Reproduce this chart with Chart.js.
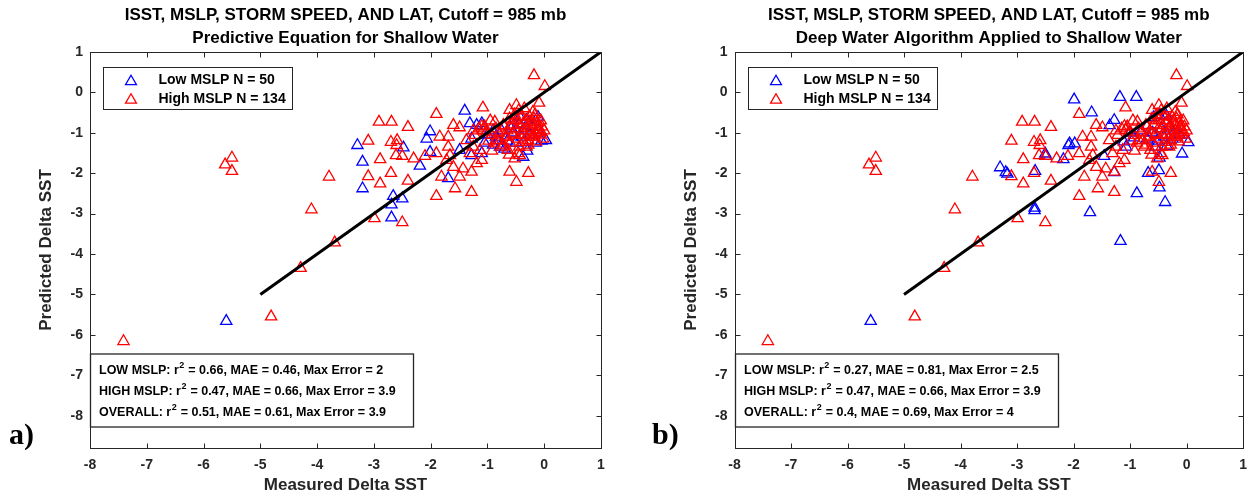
<!DOCTYPE html>
<html>
<head>
<meta charset="utf-8">
<title>Measured vs Predicted Delta SST</title>
<script src="https://cdn.jsdelivr.net/npm/chart.js@4.4.1/dist/chart.umd.min.js"></script>
<style>
	body { margin: 0; background: #ffffff; }
	#wrap { position: relative; width: 1256px; height: 494px; }
	canvas { position: absolute; top: 0; }
	#panel_a { left: 0; }
	#panel_b { left: 628px; }
</style>
</head>
<body>
<div id="wrap">
	<canvas id="panel_a" width="628" height="494"></canvas>
	<canvas id="panel_b" width="628" height="494"></canvas>
</div>
<script>
// tick values on both axes
let xTickValues = [-8, -7, -6, -5, -4, -3, -2, -1, 0, 1];
let yTickValues = [-8, -7, -6, -5, -4, -3, -2, -1, 0, 1];

// titles
let titleLine1 = 'ISST, MSLP, STORM SPEED, AND LAT, Cutoff = 985 mb';
let subtitleA = 'Predictive Equation for Shallow Water';
let subtitleB = 'Deep Water Algorithm Applied to Shallow Water';

// legend counts
let lowCount = 50;
let highCount = 134;

// 1:1 line
let fitLineX = [-5, 1];
let fitLineY = [-5, 1];

// High MSLP points (same in both panels)
let highX = [
	-7.41, -5.50, -5.62, -5.50, -4.81, -4.29, -3.69, -4.10, -3.79,
	-2.91, -2.69, -2.40, -3.10, -2.70, -2.59, -2.60, -2.50, -2.61, -2.89, -2.30, -2.10, -3.10, -2.70, -2.89, -2.40, -2.99, -2.50,
	-0.18, 0.01, -0.09, -1.08, -1.90, -0.61, -0.49, -0.20, -1.60, -1.49, -1.10, -1.08, -0.87, -0.72, -0.61, -0.49, -0.37, -0.25, -0.11, -0.05,
	-0.17, -0.28, -0.43, -0.55, -0.66, -0.78, -0.75, -0.64, -0.46, -0.31, -0.37,
	-1.84, -1.69, -1.69, -1.90, -1.66, -1.60, -1.72, -1.43, -1.28, -1.19, -1.31, -1.10, -1.81, -1.49, -1.57, -1.28, -1.90,
	-0.61, -0.49, -0.28, -0.52, -0.43, -0.84, -0.93, -1.02, -1.22, -1.37, -1.25, -1.13,
	-0.95, -0.85, -0.80, -0.70, -0.65, -0.58, -0.55, -0.50, -0.47, -0.42, -0.40, -0.38, -0.35, -0.33, -0.30, -0.28,
	-0.26, -0.24, -0.22, -0.20, -0.18, -0.15, -0.14, -0.12, -0.10, -0.08, -0.06, -0.04, -0.02, 0.00, -0.60, -0.68,
	-0.72, -0.88, -0.98, -1.05, -1.15, -1.25, -0.52, -0.45, -0.35, -0.62, -0.44, -0.16, -0.92, -0.56, -0.27
];
let highY = [
	-6.16, -1.62, -1.79, -1.95, -5.55, -4.35, -3.72, -2.90, -2.09,
	-0.73, -0.73, -0.86, -1.20, -1.23, -1.19, -1.31, -1.58, -1.56, -1.66, -1.64, -1.58, -2.08, -2.00, -2.26, -2.19, -3.12, -3.22,
	0.42, 0.15, -0.26, -0.38, -0.54, -0.44, -0.32, -0.49, -0.81, -0.87, -0.84, -0.94, -0.73, -0.81, -0.65, -0.69, -0.77, -0.73, -0.86, -0.99,
	-1.10, -1.19, -1.06, -1.02, -1.10, -1.19, -1.35, -1.43, -1.51, -1.35, -1.23,
	-1.10, -1.10, -1.35, -1.51, -1.56, -1.85, -1.68, -1.89, -1.97, -1.76, -1.51, -1.68, -2.09, -2.09, -2.38, -2.47, -2.57,
	-1.97, -2.22, -2.00, -1.64, -1.56, -1.19, -1.06, -0.98, -1.06, -1.19, -1.35, -1.43,
	-0.70, -0.90, -1.00, -0.85, -0.95, -0.80, -0.70, -0.90, -1.15, -0.82, -0.60, -0.95, -1.05, -0.70, -0.88, -1.30,
	-0.60, -0.95, -1.10, -0.80, -0.65, -1.00, -1.22, -0.75, -0.92, -1.05, -0.70, -0.85, -1.15, -0.95, -1.25, -1.10,
	-1.30, -1.25, -1.20, -0.85, -0.90, -0.95, -0.55, -0.45, -0.40, -1.55, -1.35, -0.55, -1.45, -1.05, -1.05
];

// Low MSLP points, panel a (predictive equation)
let lowAX = [
	-3.29, -3.20, -3.20, -2.66, -2.50, -2.69, -2.69, -2.48, -2.19,
	-1.40, -2.01, -2.07, -1.31, -1.19, -1.10, -1.28, -1.49, -2.01, -1.69, -1.28, -1.10, -0.90, -0.81, -0.43, -0.31,
	-0.11, 0.03, -0.37, -0.78, -0.58, -5.60,
	-1.00, -0.90, -0.85, -0.75, -0.65, -0.55, -0.50, -0.45, -0.40, -0.35, -0.30, -0.25, -0.22, -0.15, -0.10, -0.05, -0.70, -1.05, -0.60
];
let lowAY = [
	-1.31, -1.72, -2.38, -2.57, -2.63, -2.78, -3.10, -1.37, -1.82,
	-0.46, -0.97, -1.15, -0.77, -0.81, -0.77, -1.15, -1.43, -1.48, -2.13, -1.56, -1.51, -1.30, -1.19, -0.61, -0.69,
	-0.61, -1.19, -1.60, -1.35, -0.90, -5.66,
	-1.05, -0.95, -1.10, -0.95, -1.20, -1.00, -1.25, -0.80, -1.10, -0.90, -1.45, -1.05, -0.85, -1.25, -0.95, -1.20, -1.40, -1.25, -0.85
];

// Low MSLP points, panel b (deep water algorithm)
let lowBX = [
	-1.99, -1.18, -0.89, -1.68, -1.28, -1.36, -2.07, -1.98, -2.49, -2.50,
	-2.18, -1.46, -3.30, -3.20, -3.17, -2.68, -2.69, -2.69, -1.71, -1.28,
	-0.88, -0.68, -0.49, -0.48, -0.48, -0.38, -0.08, 0.03, -0.35, -1.11,
	-0.93, -0.58, -0.36, -1.17, -5.59, -1.07, -2.09, -0.48,
	-1.00, -0.80, -0.70, -0.60, -0.52, -0.45, -0.40, -0.30, -0.25, -0.20, -0.12, -0.55
];
let lowBY = [
	-0.18, -0.12, -0.12, -0.50, -0.69, -0.82, -1.27, -1.27, -1.58, -1.52,
	-1.66, -1.58, -1.86, -1.98, -2.02, -1.95, -2.86, -2.92, -2.97, -1.98,
	-2.50, -2.00, -1.93, -1.62, -2.36, -2.72, -1.52, -1.24, -1.33, -1.22,
	-1.12, -0.62, -0.58, -3.68, -5.66, -1.35, -1.31, -0.57,
	-1.00, -0.95, -1.15, -1.00, -1.20, -0.90, -1.10, -0.85, -1.15, -0.95, -1.05, -1.35
];

// statistics box
let statsNames = ['LOW MSLP:', 'HIGH MSLP:', 'OVERALL:'];
let statsA_r2 = [0.66, 0.47, 0.51];
let statsA_mae = [0.46, 0.66, 0.61];
let statsA_maxError = [2, 3.9, 3.9];
let statsB_r2 = [0.27, 0.47, 0.4];
let statsB_mae = [0.81, 0.66, 0.69];
let statsB_maxError = [2.5, 3.9, 4];

let fontSans = '"Liberation Sans", Arial, Helvetica, sans-serif';
let axisColor = '#262626';
Chart.defaults.font.family = fontSans;

let toPoints = function(xs, ys) {
	let pts = [];
	for (let i = 0; i < xs.length; i++) {
		pts.push({x: xs[i], y: ys[i]});
	}
	return pts;
}

let drawTriangle = function(ctx, x, y, r, color) {
	ctx.beginPath();
	for (let k = 0; k < 3; k++) {
		let a = k * 2 * Math.PI / 3;
		let vx = x + Math.sin(a) * r;
		let vy = y - Math.cos(a) * r;
		if (k === 0) ctx.moveTo(vx, vy); else ctx.lineTo(vx, vy);
	}
	ctx.closePath();
	ctx.strokeStyle = color;
	ctx.lineWidth = 1.3;
	ctx.stroke();
}

// frame, inward ticks, legend box, stats box and panel tag
let panelDecor = {
	id: 'panelDecor',
	afterDraw: function(chart, args, opts) {
		let ctx = chart.ctx;
		let area = chart.chartArea;
		let left = Math.round(area.left) + 0.5;
		let right = Math.round(area.right) + 0.5;
		let top = Math.round(area.top) + 0.5;
		let bottom = Math.round(area.bottom) + 0.5;
		ctx.save();

		ctx.strokeStyle = axisColor;
		ctx.lineWidth = 1;
		ctx.strokeRect(left, top, right - left, bottom - top);
		ctx.beginPath();
		chart.scales.x.ticks.forEach(function(t) {
			let px = Math.round(chart.scales.x.getPixelForValue(t.value)) + 0.5;
			ctx.moveTo(px, bottom); ctx.lineTo(px, bottom - 5);
			ctx.moveTo(px, top); ctx.lineTo(px, top + 5);
		});
		chart.scales.y.ticks.forEach(function(t) {
			let py = Math.round(chart.scales.y.getPixelForValue(t.value)) + 0.5;
			ctx.moveTo(left, py); ctx.lineTo(left + 5, py);
			ctx.moveTo(right, py); ctx.lineTo(right - 5, py);
		});
		ctx.stroke();

		// legend
		let lx = left + 13, ly = top + 15;
		ctx.fillStyle = '#ffffff';
		ctx.fillRect(lx, ly, 189, 42);
		ctx.strokeStyle = axisColor;
		ctx.lineWidth = 1;
		ctx.strokeRect(lx, ly, 189, 42);
		ctx.font = 'bold 14px ' + fontSans;
		ctx.textBaseline = 'middle';
		ctx.textAlign = 'left';
		[2, 1].forEach(function(d, i) {
			let ds = chart.data.datasets[d];
			let rowY = ly + 13 + i * 18.5;
			drawTriangle(ctx, lx + 27.5, rowY + 1, 6.3, ds.borderColor);
			ctx.fillStyle = '#000000';
			ctx.fillText(ds.label, lx + 55, rowY);
		});

		// statistics
		let bx = left, by = top + 301.5;
		ctx.fillStyle = '#ffffff';
		ctx.fillRect(bx, by, 323, 73);
		ctx.strokeStyle = axisColor;
		ctx.strokeRect(bx, by, 323, 73);
		let mainFont = 'bold 12.5px ' + fontSans;
		let supFont = 'bold 9px ' + fontSans;
		ctx.fillStyle = '#000000';
		for (let i = 0; i < statsNames.length; i++) {
			let rowY = by + 16.5 + i * 21;
			let head = statsNames[i] + ' r';
			ctx.font = mainFont;
			ctx.fillText(head, bx + 8.5, rowY);
			let w1 = ctx.measureText(head).width;
			ctx.font = supFont;
			ctx.fillText('2', bx + 8.5 + w1 + 0.5, rowY - 5);
			let w2 = ctx.measureText('2').width;
			ctx.font = mainFont;
			let rest = ' = ' + opts.r2[i] + ', MAE = ' + opts.mae[i] + ', Max Error = ' + opts.maxError[i];
			ctx.fillText(rest, bx + 8.5 + w1 + w2 + 1, rowY);
		}

		// panel tag
		ctx.font = 'bold 30px "Liberation Serif", "Times New Roman", serif';
		ctx.fillStyle = '#000000';
		ctx.textBaseline = 'middle';
		ctx.fillText(opts.tag, opts.tagX, 436);
		ctx.restore();
	}
};

let makeConfig = function(lowX, lowY, subtitle, padLeft, padRight, yWidth, decor) {
	return {
		type: 'scatter',
		data: {
			datasets: [{
				label: '1:1',
				data: toPoints(fitLineX, fitLineY),
				showLine: true,
				borderColor: '#000000',
				borderWidth: 3,
				pointRadius: 0,
				fill: false,
				order: 0
			},
			{
				label: 'High MSLP N = ' + highCount,
				data: toPoints(highX, highY),
				pointStyle: 'triangle',
				pointRadius: 6.5,
				borderColor: '#ff0000',
				backgroundColor: 'rgba(0,0,0,0)',
				borderWidth: 1.3,
				order: 1
			},
			{
				label: 'Low MSLP N = ' + lowCount,
				data: toPoints(lowX, lowY),
				pointStyle: 'triangle',
				pointRadius: 6.5,
				borderColor: '#0000ff',
				backgroundColor: 'rgba(0,0,0,0)',
				borderWidth: 1.3,
				order: 2
			}]
		},
		options: {
			responsive: false,
			animation: false,
			devicePixelRatio: 1,
			layout: {
				padding: {left: padLeft, right: padRight, top: 0, bottom: 0}
			},
			plugins: {
				legend: { display: false },
				tooltip: { enabled: false },
				title: {
					display: true,
					fullSize: false,
					text: [titleLine1, subtitle],
					color: '#000000',
					font: { size: 17, weight: 'bold', lineHeight: 1.35 },
					padding: { top: 3.5, bottom: 2.5 }
				},
				panelDecor: decor
			},
			scales: {
				x: {
					type: 'linear',
					position: 'bottom',
					min: -8,
					max: 1,
					afterBuildTicks: function(scale) {
						scale.ticks = xTickValues.map(function(v) { return {value: v}; });
					},
					afterFit: function(scale) { scale.height = 46; },
					grid: { display: false, drawTicks: false },
					border: { display: false },
					ticks: {
						color: axisColor,
						font: { size: 14, weight: 'bold' },
						padding: 9,
						maxRotation: 0,
						autoSkip: false
					},
					title: {
						display: true,
						text: 'Measured Delta SST',
						color: axisColor,
						font: { size: 17, weight: 'bold', lineHeight: 1 },
						padding: { top: 0, bottom: 0 }
					}
				},
				y: {
					type: 'linear',
					position: 'left',
					min: -8.8,
					max: 1,
					afterBuildTicks: function(scale) {
						scale.ticks = yTickValues.map(function(v) { return {value: v}; });
					},
					afterFit: function(scale) { scale.width = yWidth; },
					grid: { display: false, drawTicks: false },
					border: { display: false },
					ticks: {
						color: axisColor,
						font: { size: 14, weight: 'bold' },
						padding: 7,
						autoSkip: false
					},
					title: {
						display: true,
						text: 'Predicted Delta SST',
						color: axisColor,
						font: { size: 17, weight: 'bold', lineHeight: 1.2 },
						padding: { top: 4, bottom: 0 }
					}
				}
			}
		},
		plugins: [panelDecor]
	};
}

let ctx_panel_a = document.getElementById('panel_a').getContext('2d');
let chart_panel_a = new Chart(ctx_panel_a, makeConfig(lowAX, lowAY, subtitleA, 32, 27, 58, {
	r2: statsA_r2, mae: statsA_mae, maxError: statsA_maxError, tag: 'a)', tagX: 9
}));

let ctx_panel_b = document.getElementById('panel_b').getContext('2d');
let chart_panel_b = new Chart(ctx_panel_b, makeConfig(lowBX, lowBY, subtitleB, 49, 10, 57.5, {
	r2: statsB_r2, mae: statsB_mae, maxError: statsB_maxError, tag: 'b)', tagX: 24
}));
</script>
</body>
</html>
